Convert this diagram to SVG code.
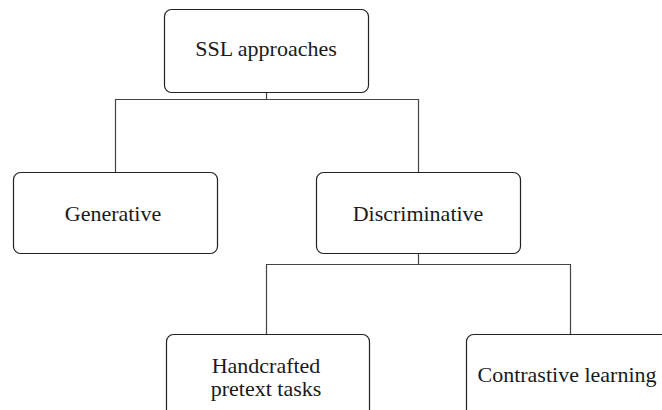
<svg xmlns="http://www.w3.org/2000/svg" width="662" height="410" viewBox="0 0 662 410">
  <style>
    .box { fill: #ffffff; stroke: #222222; stroke-width: 1.2; }
    .lbl { font-family: "Liberation Serif", "DejaVu Serif", serif; font-size: 22px; fill: #1a1a1a; text-anchor: middle; }
    .edge { fill: none; stroke: #444444; stroke-width: 1.2; }
  </style>
  <rect width="662" height="410" fill="#ffffff"/>

  <!-- tree connectors -->
  <g id="connectors">
    <path class="edge" d="M266.5,92 V99.5 M115.5,172 V99.5 H418.5 V172"/>
    <path class="edge" d="M418.5,253 V264.5 M266.5,334 V264.5 H570.5 V334"/>
  </g>

  <g id="node-ssl">
    <rect class="box" x="164.5" y="9.5" width="204" height="83" rx="7"/>
    <text class="lbl" x="266" y="56">SSL approaches</text>
  </g>

  <g id="node-generative">
    <rect class="box" x="13.5" y="172.5" width="204" height="81" rx="7"/>
    <text class="lbl" x="113" y="221">Generative</text>
  </g>

  <g id="node-discriminative">
    <rect class="box" x="316.5" y="172.5" width="204" height="81" rx="7"/>
    <text class="lbl" x="418" y="221">Discriminative</text>
  </g>

  <g id="node-handcrafted">
    <rect class="box" x="166.5" y="334.5" width="203" height="90" rx="7"/>
    <text class="lbl" x="266" y="373">Handcrafted</text>
    <text class="lbl" x="266" y="396">pretext tasks</text>
  </g>

  <g id="node-contrastive">
    <rect class="box" x="466.5" y="334.5" width="204" height="90" rx="7"/>
    <text class="lbl" x="567" y="382">Contrastive learning</text>
  </g>
</svg>
